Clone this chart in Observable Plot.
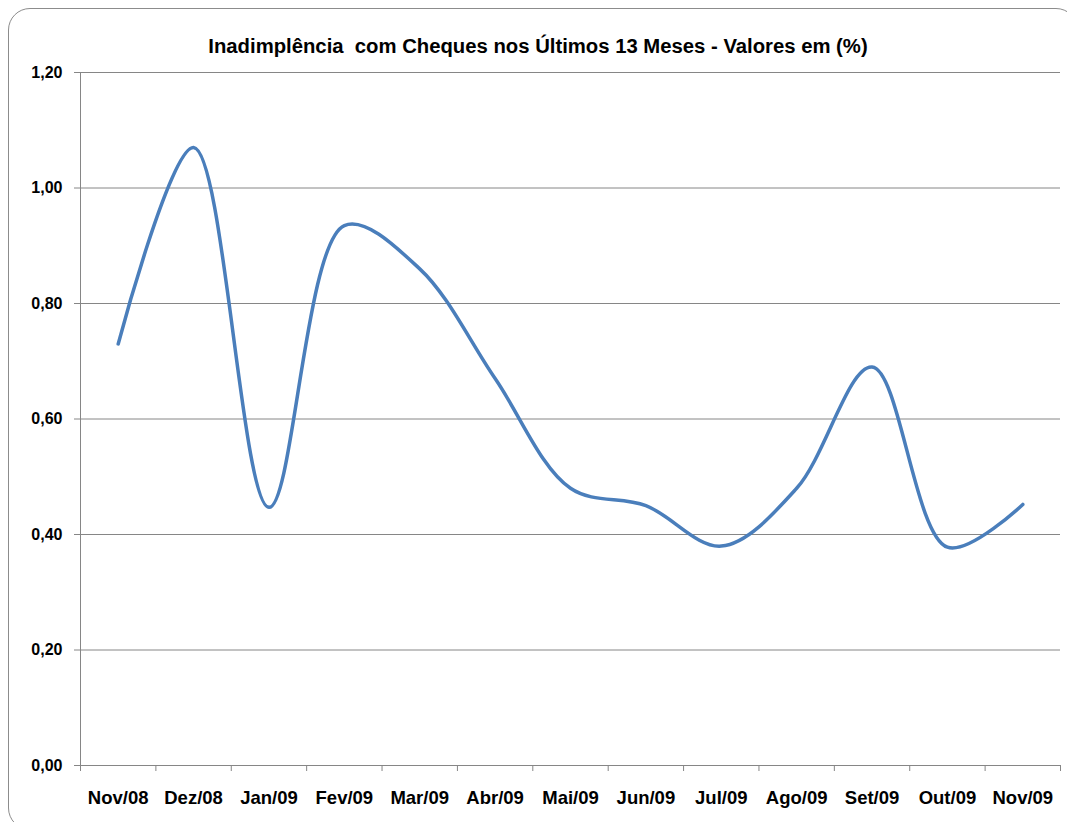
<!DOCTYPE html>
<html>
<head>
<meta charset="utf-8">
<script src="https://cdn.jsdelivr.net/npm/d3@7"></script>
<script src="https://cdn.jsdelivr.net/npm/@observablehq/plot@0.6"></script>
<style>
  html, body { margin: 0; padding: 0; background: #fff; }
  #wrap { position: relative; width: 1067px; height: 822px; overflow: hidden; }
  #border { position: absolute; left: 8px; top: 8px; width: 1070px; height: 822px; border: 1px solid #8c8c8c; border-radius: 22px; box-sizing: border-box; }
  #title { position: absolute; left: 0; width: 1076px; top: 35px; text-align: center; font-family: "Liberation Sans", sans-serif; font-weight: bold; font-size: 20.3px; color: #000; }
  #chart { position: absolute; left: 0; top: 0; }
</style>
</head>
<body>
<div id="wrap">
  <div id="border"></div>
  <div id="title">Inadimplência&nbsp; com Cheques nos Últimos 13 Meses - Valores em (%)</div>
  <div id="chart"></div>
</div>
<script>
const months = ["Nov/08","Dez/08","Jan/09","Fev/09","Mar/09","Abr/09","Mai/09","Jun/09","Jul/09","Ago/09","Set/09","Out/09","Nov/09"];
const values = [0.73, 1.07, 0.447, 0.935, 0.86, 0.67, 0.48, 0.45, 0.38, 0.48, 0.69, 0.378, 0.452];
const yTicks = [0, 0.2, 0.4, 0.6, 0.8, 1.0, 1.2];

const data = months.map((m, i) => ({i, month: m, v: values[i]}));
const idx = months.map((m, i) => i);
const boundaries = d3.range(months.length + 1).map(k => k - 0.5);
const fmt = d => d3.format(".2f")(d).replace(".", ",");
const gridColor = "#868686";

const chart = Plot.plot({
  width: 1067,
  height: 822,
  marginLeft: 80,
  marginRight: 7,
  marginTop: 72,
  marginBottom: 57,
  style: { fontFamily: "'Liberation Sans', sans-serif", background: "transparent", color: "#000" },
  x: { type: "linear", domain: [boundaries[0], boundaries[boundaries.length - 1]] },
  y: { domain: [yTicks[0], yTicks[yTicks.length - 1]] },
  marks: [
    Plot.gridY(yTicks, { stroke: gridColor, strokeOpacity: 1, strokeWidth: 1 }),
    Plot.ruleX([boundaries[0]], { stroke: gridColor, strokeWidth: 1 }),
    Plot.axisY(yTicks, { tickFormat: fmt, tickSize: 6, tickPadding: 12, stroke: gridColor, fill: "#000", fontWeight: "bold", fontSize: 16, label: null }),
    Plot.axisX(boundaries, { tickFormat: () => "", tickSize: 6, stroke: gridColor, label: null }),
    Plot.axisX(idx, { tickFormat: i => months[i], tickSize: 0, tickPadding: 25, fill: "#000", fontWeight: "bold", fontSize: 18.5, label: null }),
    Plot.line(data, { x: "i", y: "v", curve: "catmull-rom", stroke: "#4a7ebb", strokeWidth: 3.5 })
  ]
});
document.getElementById("chart").append(chart);
</script>
</body>
</html>
